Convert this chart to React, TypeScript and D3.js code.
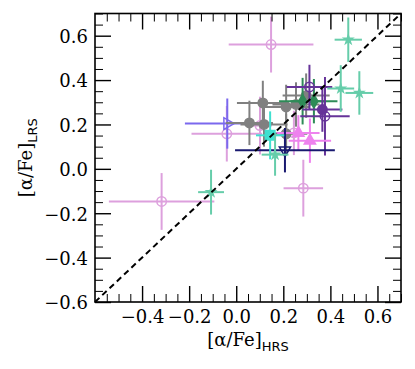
import React, { useRef, useEffect } from "react";
import * as d3 from "d3";

// --- data (x: [a/Fe]_HRS, y: [a/Fe]_LRS) ---
const plumX = [0.148, -0.317, 0.285, -0.04, 0.101, 0.245];
const plumY = [0.56, -0.147, -0.087, 0.158, 0.195, 0.162];
const plumXerr = [0.18, 0.224, 0.084, 0.15, 0.05, 0.09];
const plumYerr = [0.126, 0.128, 0.128, 0.125, 0.13, 0.1];

const aquaX = [0.476, 0.444, 0.523, -0.107, 0.165];
const aquaY = [0.582, 0.362, 0.342, -0.105, 0.064];
const aquaXerr = [0.058, 0.057, 0.059, 0.055, 0.057];
const aquaYerr = [0.1, 0.105, 0.098, 0.101, 0.095];

const grayX = [0.056, 0.113, 0.118, 0.212, 0.254, 0.297, 0.212];
const grayY = [0.207, 0.297, 0.2, 0.279, 0.29, 0.33, 0.158];
const grayXerr = [0.1, 0.11, 0.1, 0.1, 0.1, 0.1, 0.09];
const grayYerr = [0.1, 0.1, 0.1, 0.1, 0.1, 0.1, 0.09];

const turqX = [0.144];
const turqY = [0.151];
const turqXerr = [0.06];
const turqYerr = [0.108];

const navyX = [0.207];
const navyY = [0.084];
const navyXerr = [0.212];
const navyYerr = [0.1];

const slateX = [-0.038];
const slateY = [0.204];
const slateXerr = [0.18];
const slateYerr = [0.113];

const violetX = [0.313, 0.264];
const violetY = [0.127, 0.162];
const violetXerr = [0.09, 0.09];
const violetYerr = [0.1, 0.08];

const purpleX = [0.311, 0.366, 0.377];
const purpleY = [0.369, 0.267, 0.237];
const purpleXerr = [0.097, 0.085, 0.105];
const purpleYerr = [0.1, 0.1, 0.177];
const purpleFilled = [false, true, false];

const greenX = [0.282, 0.33];
const greenY = [0.305, 0.305];
const greenXerr = [0.1, 0.1];
const greenYerr = [0.105, 0.1];

const xMajor = [-0.4, -0.2, 0.0, 0.2, 0.4, 0.6];
const yMajor = [-0.6, -0.4, -0.2, 0.0, 0.2, 0.4, 0.6];

const fmt = (v) => (v < 0 ? "\u2212" : "") + Math.abs(v).toFixed(1);

const App = () => {
  const ref = useRef();

  useEffect(() => {
    const svg = d3.select(ref.current);
    svg.selectAll("*").remove();

    const width = 415;
    const height = 369;
    const margin = { top: 13.5, right: 14, bottom: 67, left: 95 };
    const serif = "'DejaVu Serif', serif";
    const sans = "'DejaVu Sans', sans-serif";

    const x = d3
      .scaleLinear()
      .domain([-0.6, 0.7])
      .range([margin.left, width - margin.right]);
    const y = d3
      .scaleLinear()
      .domain([-0.6, 0.7])
      .range([height - margin.bottom, margin.top]);

    const minors = d3
      .range(-0.6, 0.7001, 0.05)
      .map((v) => +v.toFixed(2))
      .filter((v) => Math.abs(v / 0.2 - Math.round(v / 0.2)) > 1e-6);

    // series in drawing order
    const series = [
      { xs: plumX, ys: plumY, xe: plumXerr, ye: plumYerr, color: "#dda0dd", shape: "circle", fill: false },
      { xs: slateX, ys: slateY, xe: slateXerr, ye: slateYerr, color: "#7b68ee", shape: "tri-right", fill: false },
      { xs: grayX, ys: grayY, xe: grayXerr, ye: grayYerr, color: "#808080", shape: "circle", fill: true },
      { xs: greenX, ys: greenY, xe: greenXerr, ye: greenYerr, color: "#2e8b57", shape: "diamond", fill: true },
      { xs: purpleX, ys: purpleY, xe: purpleXerr, ye: purpleYerr, color: "#663399", shape: "circle", fill: purpleFilled },
      { xs: violetX, ys: violetY, xe: violetXerr, ye: violetYerr, color: "#ee82ee", shape: "tri-up", fill: true },
      { xs: navyX, ys: navyY, xe: navyXerr, ye: navyYerr, color: "#191970", shape: "tri-down", fill: false },
      { xs: turqX, ys: turqY, xe: turqXerr, ye: turqYerr, color: "#40e0d0", shape: "square", fill: true },
      { xs: aquaX, ys: aquaY, xe: aquaXerr, ye: aquaYerr, color: "#66cdaa", shape: "star", fill: true },
    ];

    const plot = svg.append("g");

    series.forEach((s) => {
      const pts = s.xs.map((xv, i) => ({
        x: xv,
        y: s.ys[i],
        xe: s.xe[i],
        ye: s.ye[i],
        filled: Array.isArray(s.fill) ? s.fill[i] : s.fill,
      }));
      const g = plot.append("g");

      // error bars
      g.selectAll("line.xe")
        .data(pts)
        .join("line")
        .attr("x1", (d) => x(d.x - d.xe))
        .attr("x2", (d) => x(d.x + d.xe))
        .attr("y1", (d) => y(d.y))
        .attr("y2", (d) => y(d.y))
        .attr("stroke", s.color)
        .attr("stroke-width", 2);
      g.selectAll("line.ye")
        .data(pts)
        .join("line")
        .attr("x1", (d) => x(d.x))
        .attr("x2", (d) => x(d.x))
        .attr("y1", (d) => y(d.y - d.ye))
        .attr("y2", (d) => y(d.y + d.ye))
        .attr("stroke", s.color)
        .attr("stroke-width", 2);

      // markers
      let type = d3.symbolCircle;
      let size = 70;
      let rot = 0;
      if (s.shape === "tri-right") { type = d3.symbolTriangle; size = 60; rot = 90; }
      if (s.shape === "tri-up") { type = d3.symbolTriangle; size = 55; }
      if (s.shape === "tri-down") { type = d3.symbolTriangle; size = 55; rot = 180; }
      if (s.shape === "square") { type = d3.symbolSquare; size = 90; }
      if (s.shape === "diamond") { type = d3.symbolDiamond; size = 55; }
      if (s.shape === "star") { type = d3.symbolStar; size = 22; }

      g.selectAll("path")
        .data(pts)
        .join("path")
        .attr("d", d3.symbol().type(type).size(size))
        .attr("transform", (d) => `translate(${x(d.x)},${y(d.y)}) rotate(${rot})`)
        .attr("fill", (d) => (d.filled ? s.color : "none"))
        .attr("stroke", s.color)
        .attr("stroke-width", 1.5);
    });

    // 1:1 line
    plot
      .append("line")
      .attr("x1", x(-0.6))
      .attr("y1", y(-0.6))
      .attr("x2", x(0.7))
      .attr("y2", y(0.7))
      .attr("stroke", "#000")
      .attr("stroke-width", 2)
      .attr("stroke-dasharray", "6 4");

    // axes: inward ticks on all four sides
    const majorLen = 16;
    const minorLen = 8;
    const axisDefs = [
      { ax: d3.axisBottom, sc: x, tr: `translate(0,${height - margin.bottom})`, major: xMajor, labels: true },
      { ax: d3.axisTop, sc: x, tr: `translate(0,${margin.top})`, major: xMajor, labels: false },
      { ax: d3.axisLeft, sc: y, tr: `translate(${margin.left},0)`, major: yMajor, labels: true },
      { ax: d3.axisRight, sc: y, tr: `translate(${width - margin.right},0)`, major: yMajor, labels: false },
    ];

    axisDefs.forEach((a) => {
      const gMin = svg
        .append("g")
        .attr("transform", a.tr)
        .call(a.ax(a.sc).tickValues(minors).tickSize(-minorLen).tickFormat(() => ""));
      gMin.select(".domain").remove();
      gMin.selectAll("line").attr("stroke", "#000").attr("stroke-width", 1);

      const gMaj = svg
        .append("g")
        .attr("transform", a.tr)
        .call(
          a
            .ax(a.sc)
            .tickValues(a.major)
            .tickSize(-majorLen)
            .tickPadding(a.ax === d3.axisLeft ? 7 : 8.5)
            .tickFormat(a.labels ? fmt : () => "")
        );
      gMaj.select(".domain").remove();
      gMaj.selectAll("line").attr("stroke", "#000").attr("stroke-width", 1.4);
      gMaj
        .selectAll("text")
        .attr("font-family", serif)
        .attr("font-size", 18)
        .attr("fill", "#000");
      if (a.ax === d3.axisLeft) gMaj.selectAll("text").attr("dy", "0.38em");
    });

    // frame
    svg
      .append("rect")
      .attr("x", margin.left)
      .attr("y", margin.top)
      .attr("width", width - margin.left - margin.right)
      .attr("height", height - margin.top - margin.bottom)
      .attr("fill", "none")
      .attr("stroke", "#000")
      .attr("stroke-width", 1.6);

    // axis labels
    const xl = svg
      .append("text")
      .attr("x", (margin.left + width - margin.right) / 2)
      .attr("y", 346)
      .attr("text-anchor", "middle")
      .attr("font-family", serif)
      .attr("font-size", 18);
    xl.append("tspan").text("[\u03b1/Fe]");
    xl.append("tspan").attr("font-family", sans).attr("font-size", 13).attr("dy", 5).text("HRS");

    const yl = svg
      .append("text")
      .attr("transform", `translate(31.5,${(margin.top + height - margin.bottom) / 2}) rotate(-90)`)
      .attr("text-anchor", "middle")
      .attr("font-family", serif)
      .attr("font-size", 18);
    yl.append("tspan").text("[\u03b1/Fe]");
    yl.append("tspan").attr("font-family", sans).attr("font-size", 13).attr("dy", 5).text("LRS");
  }, []);

  return (
    <svg
      ref={ref}
      width={415}
      height={369}
      style={{ position: "absolute", left: 0, top: 0, background: "#fff" }}
    ></svg>
  );
};

export default App;
